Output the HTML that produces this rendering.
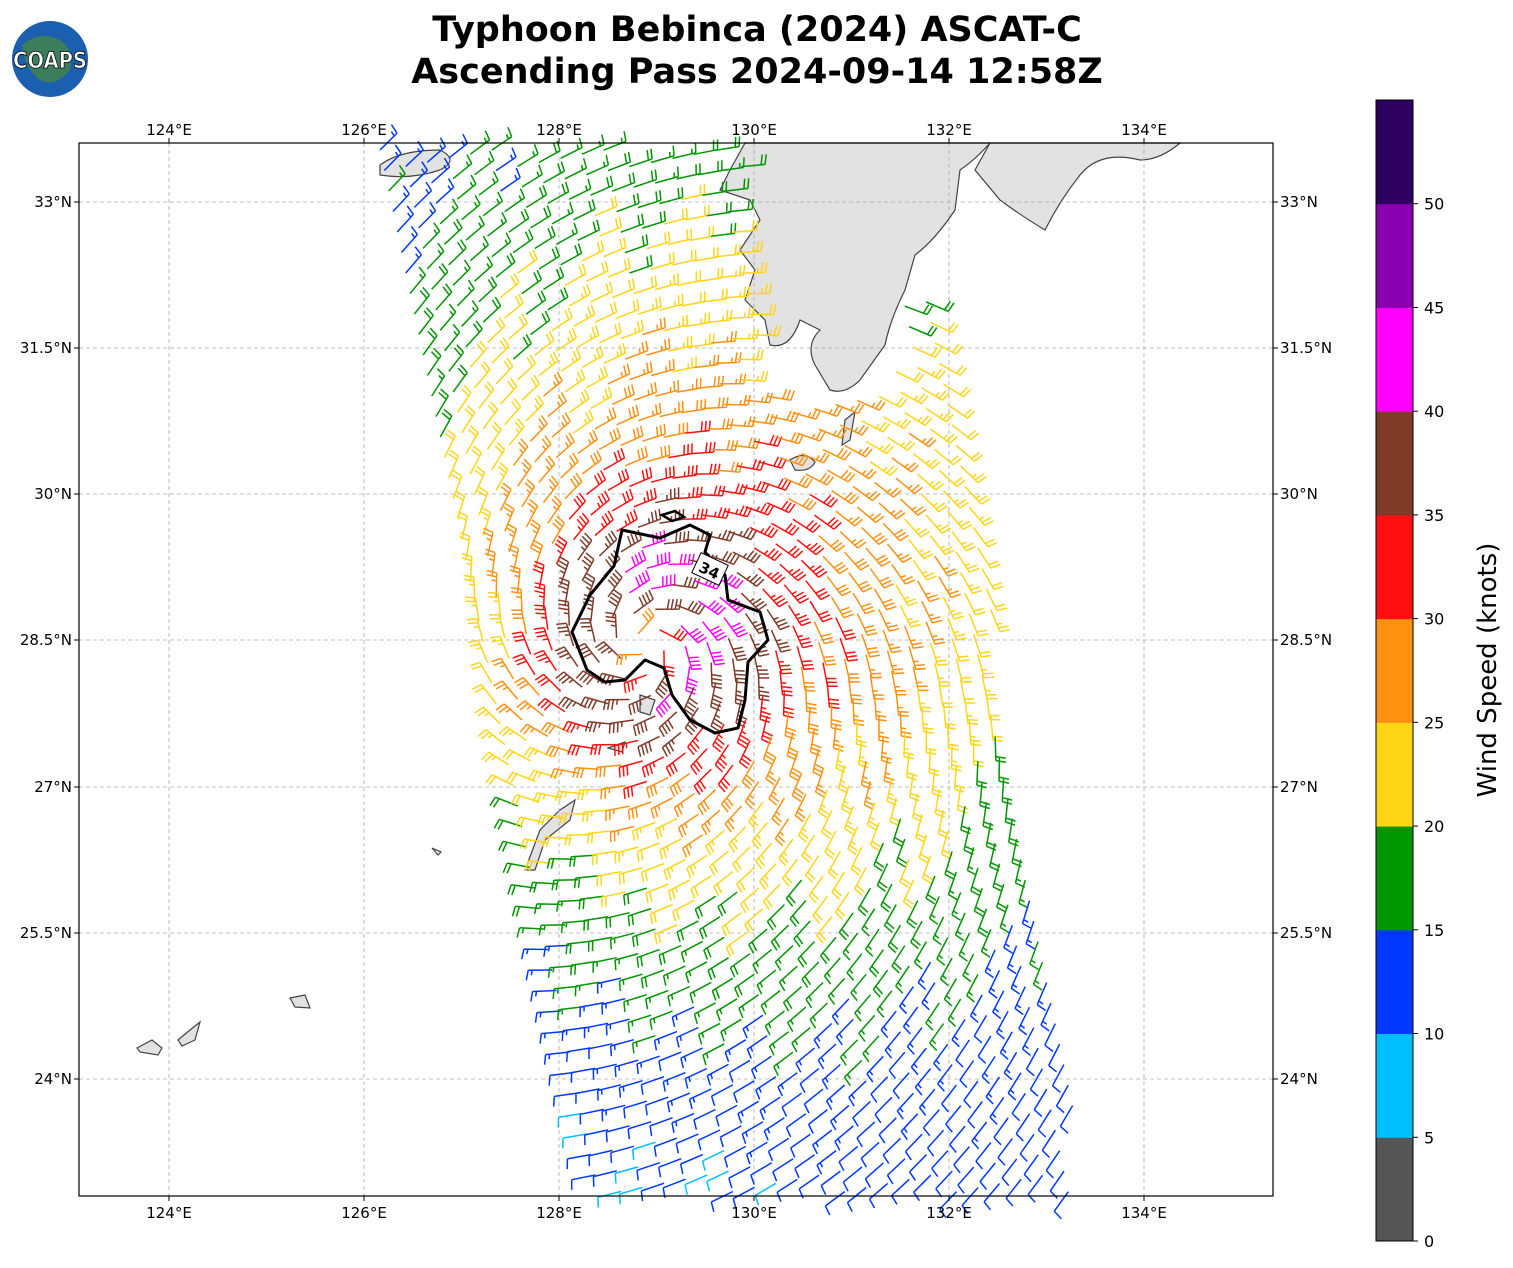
<!DOCTYPE html>
<html><head><meta charset="utf-8"><style>
body{margin:0;background:#fff;width:1513px;height:1264px;overflow:hidden;font-family:"DejaVu Sans","Liberation Sans",sans-serif}
</style></head><body>
<svg id="s" width="1513" height="1264" xmlns="http://www.w3.org/2000/svg" font-family="DejaVu Sans, Liberation Sans, sans-serif">
<text x="757" y="41" text-anchor="middle" font-size="35" font-weight="bold">Typhoon Bebinca (2024) ASCAT-C</text>
<text x="757" y="83" text-anchor="middle" font-size="35" font-weight="bold">Ascending Pass 2024-09-14 12:58Z</text>
<circle cx="50" cy="59" r="38" fill="#1a5fb0"/>
<path d="M22,45 Q40,30 60,40 Q75,50 70,70 Q55,88 40,80 Q25,70 22,45Z" fill="#4a8a3a" opacity="0.7"/>
<text x="50" y="68" text-anchor="middle" font-size="22" font-weight="bold" fill="#fff" stroke="#000" stroke-width="0.8" textLength="74" lengthAdjust="spacingAndGlyphs">COAPS</text>
<rect x="79" y="143" width="1194" height="1053" fill="#fff"/>
<g id="land" fill="#e2e2e2" stroke="#444" stroke-width="1.2">
<path d="M745,143 L990,143 Q975,160 960,170 L955,210 Q935,240 915,255 L905,290 Q890,320 885,345 L860,380 Q845,395 830,390 L815,365 Q805,345 820,330 L800,320 Q790,350 770,345 L765,320 L745,300 L755,270 L740,250 L760,220 L750,200 L720,190 L730,170 Z"/>
<path d="M990,143 L1180,143 Q1160,160 1140,160 Q1100,150 1080,175 Q1060,200 1045,230 Q1020,215 1000,200 L975,170 Z"/>
<path d="M380,165 Q400,150 440,150 Q460,160 440,170 Q410,180 380,175Z"/>
<path d="M790,460 Q805,450 815,462 Q810,472 795,470Z"/>
<path d="M845,420 L855,412 L850,440 L842,445Z"/>
<path d="M525,870 L540,830 L560,810 L575,800 L570,820 L545,840 L535,870Z"/>
<path d="M137,1048 L152,1040 L162,1048 L158,1055 L140,1052Z"/>
<path d="M178,1040 L190,1030 L200,1022 L195,1040 L182,1046Z"/>
<path d="M290,998 L305,995 L310,1008 L295,1007Z"/>
<path d="M432,848 L441,852 L438,855Z"/>
<path d="M608,748 L625,742 L622,752Z"/>
<path d="M640,695 L655,700 L650,715 L640,712Z"/>
</g>
<g id="grid" stroke="#aaa" stroke-width="0.8" stroke-dasharray="4,3"></g>
<g id="barbs" stroke-width="1.5" fill="none" stroke-linecap="butt"></g>
<path d="M622,530 L660,538 L690,525 L710,535 L705,552 L725,575 L728,600 L760,612 L768,640 L748,662 L745,700 L738,728 L715,733 L690,720 L672,695 L664,668 L645,660 L625,680 L605,682 L587,670 L572,632 L590,595 L614,566 Z" fill="none" stroke="#000" stroke-width="3"/>
<path d="M662,515 L675,511 L684,517 L672,521Z" fill="none" stroke="#000" stroke-width="2.5"/>
<rect x="695" y="558" width="30" height="22" fill="#fff" stroke="#000" transform="rotate(25 710 569)"/>
<text x="710" y="576" text-anchor="middle" font-size="15" font-weight="bold" transform="rotate(25 710 569)">34</text>
<rect x="79" y="143" width="1194" height="1053" fill="none" stroke="#000" stroke-width="1.2"/>
<g id="ticks" font-size="15"></g>
<g id="cb"></g>
<text transform="translate(1496,670) rotate(-90)" text-anchor="middle" font-size="26">Wind Speed (knots)</text>
</svg>
<script>
var NS="http://www.w3.org/2000/svg";
function el(p,t,a,txt){var e=document.createElementNS(NS,t);for(var k in a)e.setAttribute(k,a[k]);if(txt!=null)e.textContent=txt;p.appendChild(e);return e;}
var g=document.getElementById('grid'),tk=document.getElementById('ticks');
var lons=[[124,169],[126,364],[128,559],[130,754],[132,949],[134,1144]];
lons.forEach(function(l){el(g,'line',{x1:l[1],y1:143,x2:l[1],y2:1196});
el(tk,'text',{x:l[1],y:1218,'text-anchor':'middle'},l[0]+'°E');
el(tk,'text',{x:l[1],y:135,'text-anchor':'middle'},l[0]+'°E');
el(tk,'line',{x1:l[1],y1:1196,x2:l[1],y2:1201,stroke:'#000'});el(tk,'line',{x1:l[1],y1:143,x2:l[1],y2:138,stroke:'#000'});});
var lats=[['33°N',202],['31.5°N',348],['30°N',494],['28.5°N',640],['27°N',787],['25.5°N',933],['24°N',1079]];
lats.forEach(function(l){el(g,'line',{x1:79,y1:l[1],x2:1273,y2:l[1]});
el(tk,'text',{x:72,y:l[1]+5,'text-anchor':'end'},l[0]);
el(tk,'text',{x:1280,y:l[1]+5},l[0]);
el(tk,'line',{x1:79,y1:l[1],x2:74,y2:l[1],stroke:'#000'});el(tk,'line',{x1:1273,y1:l[1],x2:1278,y2:l[1],stroke:'#000'});});
var cols=['#555555','#00bfff','#0038ff','#009600','#ffd515','#ff9010','#ff1010','#7f3a28','#ff00ff','#8800b0','#2e0060'];
var cb=document.getElementById('cb');var bh=(1241-100)/11;
for(var i=0;i<11;i++){el(cb,'rect',{x:1376,y:1241-(i+1)*bh,width:37,height:bh+0.5,fill:cols[i]});}
el(cb,'rect',{x:1376,y:100,width:37,height:1141,fill:'none',stroke:'#000'});
for(var i=0;i<=10;i++){var y=1241-i*bh;el(cb,'line',{x1:1413,y1:y,x2:1418,y2:y,stroke:'#000'});el(cb,'text',{x:1424,y:y+6,'font-size':16},String(i*5));}
var B=document.getElementById('barbs');var cx=645,cy=645;
function L(y){return 380+0.21*(y-150);}
function R(y){return 1088-0.165*(1196-y);}
var out='';
for(var row=-6;row<56;row++){
 var y0=150+row*20.5;
 for(var c=0;c<27;c++){
  var x=L(y0)+c*21.5; var y=y0-0.19*(c*21.5);
  if(x<L(y)-2||x>R(y))continue;
  if(x<80||x>1270||y<148||y>1192)continue;
  if(x>745&&y<290)continue;if(x>755&&x<895&&y<395)continue;
  var dx=x-cx,dy=-(y-cy),r=Math.hypot(dx,dy*0.9)+0.1;
  var sp;if(r<35)sp=25+13*r/35;else if(r<80)sp=39;else sp=39*Math.pow(80/r,0.5);
  if(r>250)sp-=0.012*(r-250);
  var w=Math.min(1,r/150);
  sp+=4*dx/r*w;sp+=3*dy/r*w;
  sp+=1.5*Math.sin(c*1.7+row*0.9);
  if(y>1000)sp=Math.max(sp,8.5+(x-600)/120);
  if(sp<6)sp=6;
  var col=cols[Math.min(10,Math.floor(sp/5))];
  var ve=-dy/r-0.3*dx/r,vn=dx/r-0.3*dy/r;
  var sx=-ve,sy=vn;var m=Math.hypot(sx,sy);sx/=m;sy/=m;
  var Ls=24,tx=x+sx*Ls,ty=y+sy*Ls;
  var px=sy,py=-sx;
  var d='M'+x.toFixed(1)+','+y.toFixed(1)+'L'+tx.toFixed(1)+','+ty.toFixed(1);
  var k=Math.round(sp/5),full=Math.floor(k/2),half=k%2,pos=0;
  for(var f=0;f<full;f++){var bx=tx-sx*pos,by=ty-sy*pos;d+='M'+bx.toFixed(1)+','+by.toFixed(1)+'L'+(bx+px*10+sx*2).toFixed(1)+','+(by+py*10+sy*2).toFixed(1);pos+=4;}
  if(half){if(full==0)pos=4;var bx=tx-sx*pos,by=ty-sy*pos;d+='M'+bx.toFixed(1)+','+by.toFixed(1)+'L'+(bx+px*5+sx).toFixed(1)+','+(by+py*5+sy).toFixed(1);}
  out+='<path d="'+d+'" stroke="'+col+'"/>';
 }
}
B.innerHTML=out;
</script>
</body></html>
